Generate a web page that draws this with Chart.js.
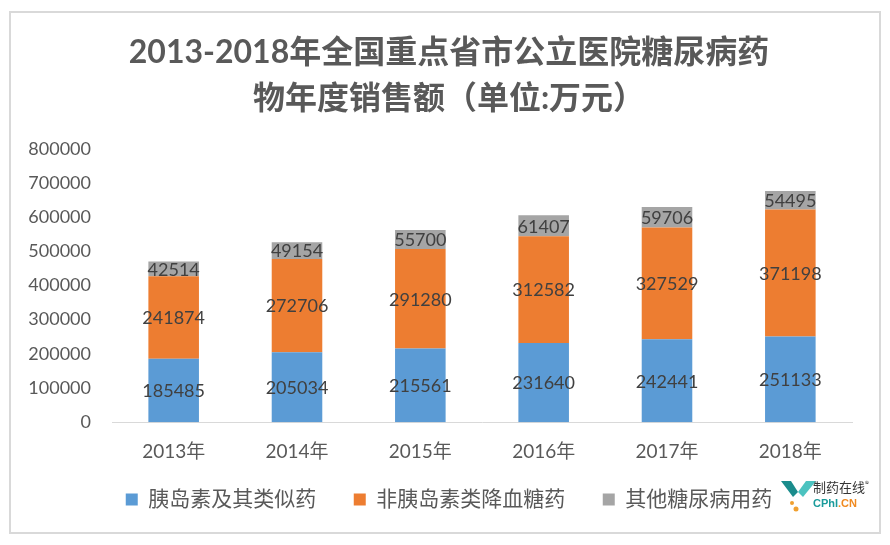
<!DOCTYPE html>
<html>
<head>
<meta charset="utf-8">
<script src="https://cdn.jsdelivr.net/npm/chart.js@4"></script>
<style>
  body { margin: 0; background: #fff; }
  #wrap { width: 890px; height: 545px; }
</style>
</head>
<body>
<div id="wrap"><canvas id="salesChart" width="890" height="545"></canvas></div>
<script>
const years = ['2013年', '2014年', '2015年', '2016年', '2017年', '2018年'];
const insulin = [185485, 205034, 215561, 231640, 242441, 251133];
const nonInsulin = [241874, 272706, 291280, 312582, 327529, 371198];
const otherDrugs = [42514, 49154, 55700, 61407, 59706, 54495];

const fontFamily = "Lato, 'Noto Sans CJK SC', sans-serif";

// values drawn in the middle of each segment
const segmentLabels = {
  id: 'segmentLabels',
  afterDatasetsDraw(chart) {
    const c = chart.ctx;
    c.save();
    c.font = '18px ' + fontFamily;
    c.fillStyle = '#404040';
    c.textAlign = 'center';
    c.textBaseline = 'middle';
    chart.data.datasets.forEach((ds, i) => {
      chart.getDatasetMeta(i).data.forEach((bar, j) => {
        c.fillText(ds.data[j], bar.x, (bar.y + bar.base) / 2 + 1);
      });
    });
    c.restore();
  }
};

// outer frame + site mark in the corner
const frame = {
  id: 'frame',
  beforeDraw(chart) {
    const c = chart.ctx;
    c.save();
    c.fillStyle = '#fff';
    c.fillRect(0, 0, chart.width, chart.height);
    c.strokeStyle = '#d9d9d9';
    c.lineWidth = 2;
    c.strokeRect(10, 12, 870, 521);
    c.restore();
  },
  afterDraw(chart) {
    const c = chart.ctx;
    c.save();
    // little V logo
    c.fillStyle = '#1a8c8c';
    c.beginPath();
    c.moveTo(781, 481); c.lineTo(791, 481); c.lineTo(798, 492); c.lineTo(793, 497); c.closePath();
    c.fill();
    c.fillStyle = '#4cc3c0';
    c.beginPath();
    c.moveTo(798, 492); c.lineTo(806, 481); c.lineTo(816, 481); c.lineTo(803, 497); c.closePath();
    c.fill();
    c.fillStyle = '#f0a030';
    c.beginPath(); c.arc(792, 503, 2, 0, Math.PI * 2); c.fill();
    c.beginPath(); c.arc(796, 509, 2.5, 0, Math.PI * 2); c.fill();
    c.fillStyle = '#333';
    c.font = "13px 'Noto Sans CJK SC'";
    c.textBaseline = 'middle';
    c.fillText('制药在线', 813, 487);
    c.font = "8px 'Noto Sans CJK SC'";
    c.fillText('®', 865, 484);
    c.fillStyle = '#1a9b9b';
    c.font = "bold 11px 'Liberation Sans'";
    c.fillText('CPhI', 813, 504);
    c.fillStyle = '#f08a20';
    c.fillText('.CN', 838, 504);
    c.restore();
  }
};

new Chart(document.getElementById('salesChart'), {
  type: 'bar',
  data: {
    labels: years,
    datasets: [
      { label: '胰岛素及其类似药', data: insulin, backgroundColor: '#5b9bd5' },
      { label: '非胰岛素类降血糖药', data: nonInsulin, backgroundColor: '#ed7d31' },
      { label: '其他糖尿病用药', data: otherDrugs, backgroundColor: '#a5a5a5' }
    ]
  },
  options: {
    responsive: false,
    animation: false,
    layout: { padding: { left: 22, right: 14, top: 16, bottom: 25 } },
    datasets: { bar: { categoryPercentage: 1, barPercentage: 0.41 } },
    plugins: {
      title: {
        display: true,
        text: ['2013-2018年全国重点省市公立医院糖尿病药', '物年度销售额（单位:万元）'],
        color: '#595959',
        font: { family: fontFamily, size: 32, weight: 'bold', lineHeight: 1.45 },
        padding: { top: 13, bottom: 27 }
      },
      legend: {
        position: 'bottom',
        labels: {
          color: '#595959',
          font: { family: fontFamily, size: 21 },
          boxWidth: 12,
          boxHeight: 12,
          padding: 16,
          // wider gaps between the items without a taller legend
          generateLabels(chart) {
            const items = Chart.defaults.plugins.legend.labels.generateLabels(chart);
            items.forEach((it, i) => { if (i < items.length - 1) it.text += '    '; });
            return items;
          }
        }
      },
      tooltip: { enabled: false }
    },
    scales: {
      x: {
        stacked: true,
        grid: { display: false },
        border: { color: '#d9d9d9', width: 1 },
        ticks: { color: '#595959', font: { family: fontFamily, size: 19 }, padding: 10 }
      },
      y: {
        stacked: true,
        min: 0,
        max: 800000,
        grid: { display: false },
        border: { display: false },
        afterFit(scale) { scale.width = 90; },
        ticks: {
          stepSize: 100000,
          color: '#595959',
          font: { family: fontFamily, size: 18 },
          padding: 13,
          callback: v => String(v)
        }
      },
      // empty spacer on the right so the plot ends where the reference does
      spacer: {
        position: 'right',
        grid: { display: false },
        border: { display: false },
        ticks: { display: false },
        afterFit(scale) { scale.width = 24; }
      }
    }
  },
  plugins: [frame, segmentLabels]
});
</script>
</body>
</html>
